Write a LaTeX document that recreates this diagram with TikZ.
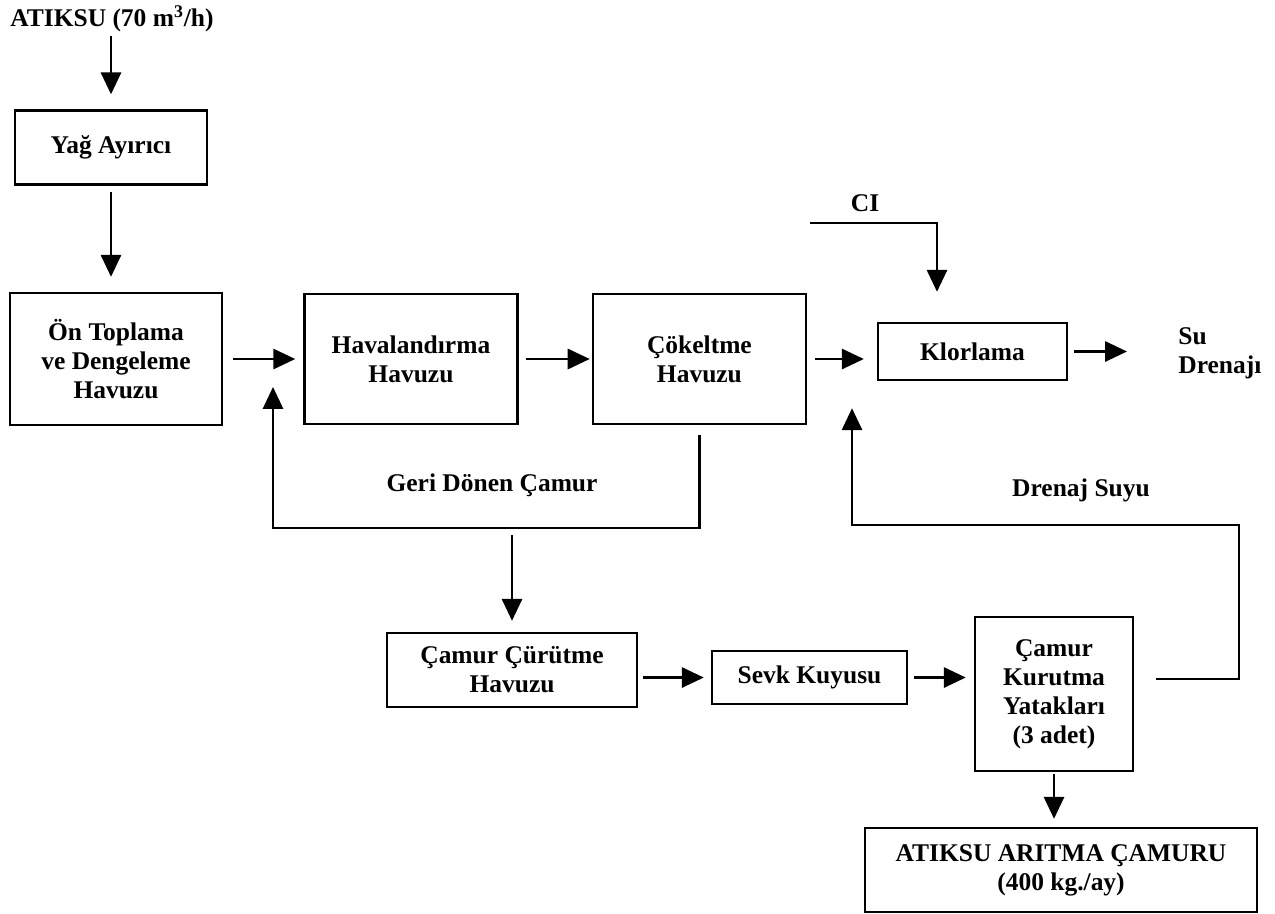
\documentclass[tikz,border=0pt]{standalone}
\usepackage{fontspec}
\setmainfont{Liberation Serif}
\usetikzlibrary{positioning}
\usetikzlibrary{arrows.meta}

\begin{document}
\begin{tikzpicture}[every node/.style={font=\fontsize{14.5}{16.5}\selectfont\bfseries,align=center},
	box/.style={draw,line width=1.4pt,inner sep=0pt},
	lbl/.style={inner sep=0pt},
	flow/.style={line width=1.4pt,-{Triangle[length=12.5pt,width=11.5pt]}}]
	\useasboundingbox (0,0) rectangle (25.5,-18.26);
		\node[lbl,anchor=west] (atiksu) at (0.2,-0.38) {ATIKSU (70 m\textsuperscript{3}/h)};
		\node[box,minimum width=4.24cm,minimum height=2.64cm] (on) at (2.32,-7.18) {Ön Toplama\\ve Dengeleme\\Havuzu};
		\node[box,minimum width=3.84cm,minimum height=1.48cm] (yag) [above=2.12cm of on,xshift=-0.1cm] {Yağ Ayırıcı};
		\node[box,minimum width=4.26cm,minimum height=2.6cm] (hava) [right=1.6cm of on] {Havalandırma\\Havuzu};
		\node[box,minimum width=4.26cm,minimum height=2.6cm] (cok) [right=1.46cm of hava] {Çökeltme\\Havuzu};
		\node[box,minimum width=3.78cm,minimum height=1.14cm] (klor) at (19.45,-7.03) {Klorlama};
		\node[lbl,anchor=west,align=left] (su) at (23.56,-7.06) {Su\\Drenajı};
		\node[lbl] (cl) at (17.3,-4.06) {CI};
		\node[lbl] (geri) at (9.84,-9.7) {Geri Dönen Çamur};
		\node[lbl] (drenaj) at (21.62,-9.8) {Drenaj Suyu};
		\node[box,minimum width=5cm,minimum height=1.48cm] (curut) at (10.24,-13.4) {Çamur Çürütme\\Havuzu};
		\node[box,minimum width=3.9cm,minimum height=1.06cm] (sevk) at (16.19,-13.55) {Sevk Kuyusu};
		\node[box,minimum width=3.16cm,minimum height=3.08cm] (kurut) at (21.08,-13.88) {Çamur\\Kurutma\\Yatakları\\(3 adet)};
		\node[box,minimum width=7.84cm,minimum height=1.68cm] (camur) at (21.22,-17.4) {ATIKSU ARITMA ÇAMURU\\(400 kg./ay)};
		\coordinate (clbas) at (16.2,-4.46);
		\coordinate (gk) at (5.46,-10.56);
		\coordinate (dk) at (17.04,-10.5);
		\draw[flow,shorten <=0.06cm,shorten >=0.3cm] (yag.north |- atiksu.south) -- (yag.north);
		\draw[flow,shorten <=0.12cm,shorten >=0.3cm] (yag.south) -- (yag.south |- on.north);
		\draw[flow,shorten <=0.2cm,shorten >=0.16cm] (on.east) -- (hava.west);
		\draw[flow,shorten <=0.14cm,shorten >=0.04cm] (hava.east) -- (hava.east -| cok.west);
		\draw[flow,shorten <=0.16cm,shorten >=0.26cm] (cok.east) -- (cok.east -| klor.west);
		\draw[flow,shorten <=0.12cm,shorten >=1.02cm] (klor.east) -- (klor.east -| su.west);
		\draw[flow,shorten >=0.6cm] (clbas) -| ([xshift=-0.71cm]klor.north);
		\draw[flow,shorten >=0.56cm] ([yshift=-0.2cm]cok.south) |- (gk) -- (gk |- on.east);
		\draw[flow,shorten >=0.22cm] ([yshift=-0.14cm]gk -| curut.north) -- (curut.north);
		\draw[flow,shorten <=0.1cm,shorten >=0.14cm] (sevk.west -| curut.east) -- (sevk.west);
		\draw[flow,shorten <=0.12cm,shorten >=0.16cm] (sevk.east) -- (sevk.east -| kurut.west);
		\draw[flow,shorten >=0.54cm] ([shift={(0.44,0.3)}]kurut.east) -- ++(1.66,0) |- (dk) -- (dk |- klor.south);
		\draw[flow,shorten <=0.04cm,shorten >=0.16cm] (kurut.south) -- (kurut.south |- camur.north);
	\end{tikzpicture}
\end{document}
